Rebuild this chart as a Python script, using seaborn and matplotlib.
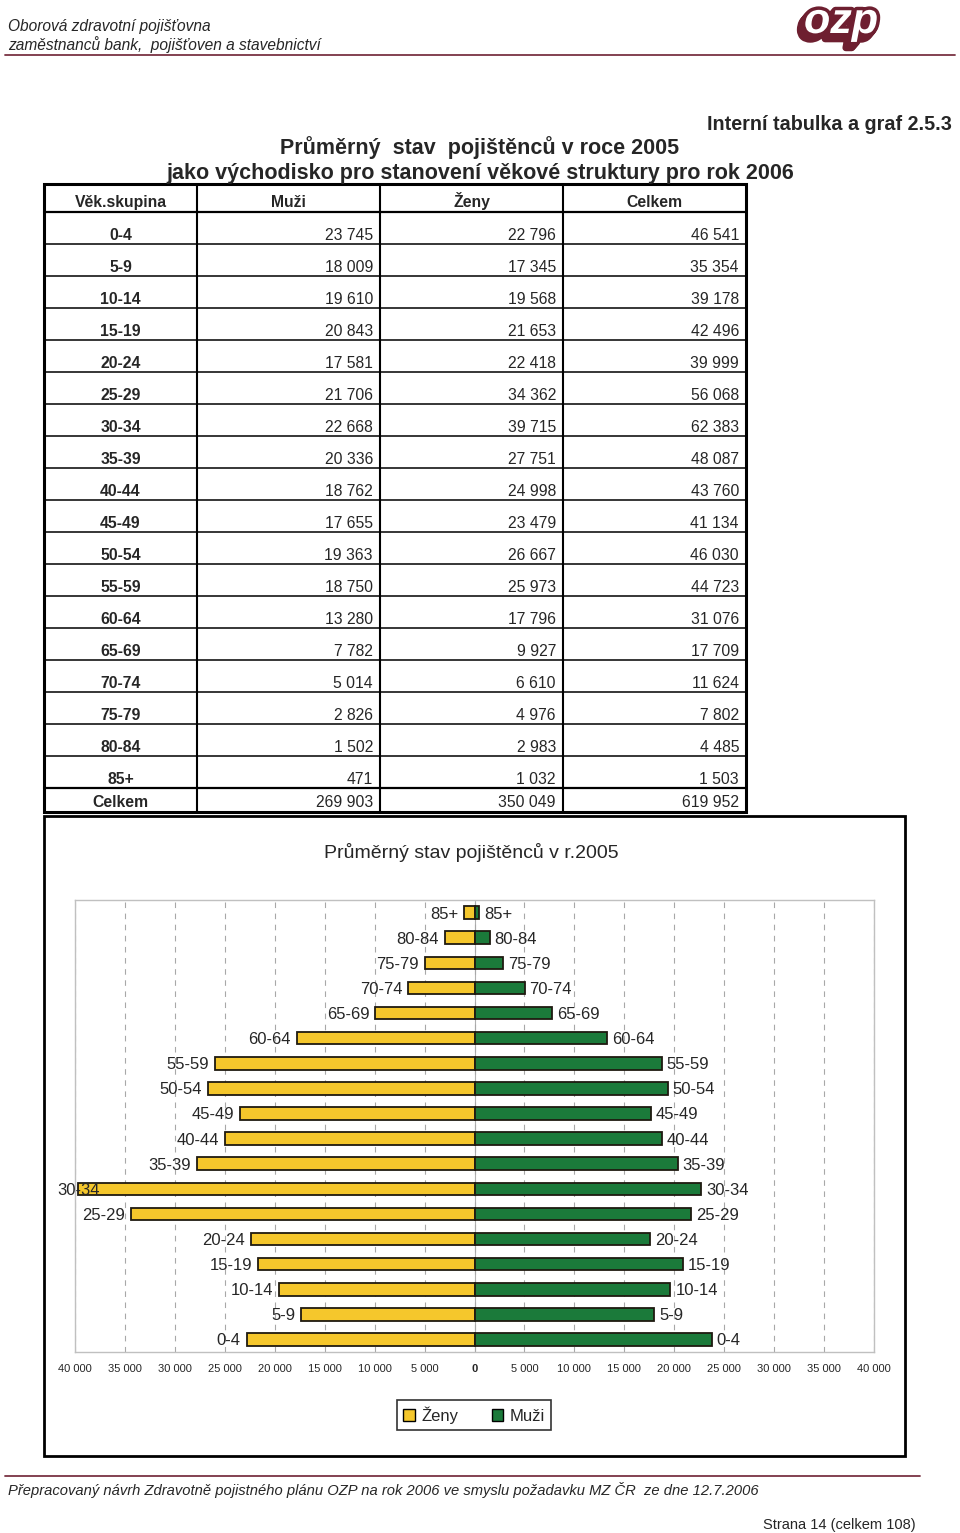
import numpy as np
import pandas as pd
import matplotlib
matplotlib.use("Agg")
import matplotlib.pyplot as plt
import matplotlib.patheffects as pe
from matplotlib.patches import Patch, Rectangle
from matplotlib.ticker import FuncFormatter
import seaborn as sns

# ---------------- data ----------------
ages = ["0-4", "5-9", "10-14", "15-19", "20-24", "25-29", "30-34", "35-39", "40-44",
        "45-49", "50-54", "55-59", "60-64", "65-69", "70-74", "75-79", "80-84", "85+"]
muzi = [23745, 18009, 19610, 20843, 17581, 21706, 22668, 20336, 18762,
        17655, 19363, 18750, 13280, 7782, 5014, 2826, 1502, 471]
zeny = [22796, 17345, 19568, 21653, 22418, 34362, 39715, 27751, 24998,
        23479, 26667, 25973, 17796, 9927, 6610, 4976, 2983, 1032]
celkem = [46541, 35354, 39178, 42496, 39999, 56068, 62383, 48087, 43760,
          41134, 46030, 44723, 31076, 17709, 11624, 7802, 4485, 1503]
total_label = "Celkem"
totals = [269903, 350049, 619952]
col_headers = ["Věk.skupina", "Muži", "Ženy", "Celkem"]
xticks = [-40000, -35000, -30000, -25000, -20000, -15000, -10000, -5000, 0,
          5000, 10000, 15000, 20000, 25000, 30000, 35000, 40000]

YELLOW = "#F5C72C"
GREEN = "#1B7A3A"
EDGE = "#1f1a10"
DARKRED = "#6E1F30"

sns.set_style("white")
plt.rcParams["font.family"] = ["Liberation Sans", "DejaVu Sans"]

W, H = 960, 1533
fig = plt.figure(figsize=(W / 100, H / 100), dpi=100)

# overlay axes in pixel coordinates
ax0 = fig.add_axes([0, 0, 1, 1], zorder=0)
ax0.set_xlim(0, W)
ax0.set_ylim(H, 0)
ax0.axis("off")


def fmt(v):
    return f"{v:,}".replace(",", " ")


def txt(x, y, s, size, ha="left", **kw):
    ax0.text(x, y + size * 0.5, s, fontsize=size, ha=ha, va="baseline", **kw)


# ---------------- header ----------------
txt(8, 25, "Oborová zdravotní pojišťovna", 11.2, style="italic")
txt(8, 44, "zaměstnanců bank,  pojišťoven a stavebnictví", 11.2, style="italic")
ax0.plot([5, 955], [55, 55], color="#7A3343", lw=1.3)

# logo (single text, extruded shadow via path effects)
logo_fx = [pe.Stroke(offset=(-k * 0.6, -k * 0.7), linewidth=5, foreground=DARKRED)
           for k in range(6, 0, -1)]
logo_fx += [pe.Stroke(linewidth=5, foreground=DARKRED), pe.Normal()]
ax0.text(841, 22, "ozp", fontsize=31, fontweight="bold", style="italic",
         color="white", ha="center", va="center", path_effects=logo_fx)

txt(952, 123, "Interní tabulka a graf 2.5.3", 14.2, ha="right", fontweight="bold")
txt(480, 146, "Průměrný  stav  pojištěnců v roce 2005", 15.5, ha="center", fontweight="bold")
txt(480, 171, "jako východisko pro stanovení věkové struktury pro rok 2006", 15.5,
    ha="center", fontweight="bold")

# ---------------- table ----------------
xb = [44, 197, 380, 563, 746]
top, hdr_bot = 184, 212
row_h = 32
rows_bot = hdr_bot + row_h * len(ages)
tab_bot = 812

ax0.plot([xb[0], xb[-1]], [hdr_bot, hdr_bot], color="black", lw=1.6)
for i in range(1, len(ages)):
    yy = hdr_bot + row_h * i
    ax0.plot([xb[0], xb[-1]], [yy, yy], color="black", lw=1.1)
ax0.plot([xb[0], xb[-1]], [rows_bot, rows_bot], color="black", lw=1.6)
for x in xb[1:-1]:
    ax0.plot([x, x], [top, tab_bot], color="black", lw=1.5)
ax0.add_patch(Rectangle((xb[0], top), xb[-1] - xb[0], tab_bot - top,
                        fill=False, edgecolor="black", lw=2.2))

for j, h in enumerate(col_headers):
    txt((xb[j] + xb[j + 1]) / 2, 201, h, 11.3, ha="center", fontweight="bold")

for i, a in enumerate(ages):
    yc = hdr_bot + row_h * i + 22
    txt((xb[0] + xb[1]) / 2, yc, a, 11.3, ha="center", fontweight="bold")
    for j, v in enumerate([muzi[i], zeny[i], celkem[i]]):
        txt(xb[j + 2] - 7, yc, fmt(v), 11.3, ha="right")
txt((xb[0] + xb[1]) / 2, 801, total_label, 11.3, ha="center", fontweight="bold")
for j, v in enumerate(totals):
    txt(xb[j + 2] - 7, 801, fmt(v), 11.3, ha="right")

# ---------------- chart box ----------------
ax0.add_patch(Rectangle((44, 816), 905 - 44, 1456 - 816, fill=False,
                        edgecolor="black", lw=2))
txt(471, 851, "Průměrný stav pojištěnců v r.2005", 14, ha="center")

# ---------------- pyramid ----------------
pl, pr, pt, pb = 75, 874, 900, 1352
ax = fig.add_axes([pl / W, 1 - pb / H, (pr - pl) / W, (pb - pt) / H], zorder=1)

order = ages[::-1]
df = pd.DataFrame({"age": ages, "Muži": muzi, "Ženy": [-z for z in zeny]})

sns.barplot(data=df, y="age", x="Ženy", order=order, orient="h", color=YELLOW,
            saturation=1, edgecolor=EDGE, linewidth=1.3, width=0.5, ax=ax)
sns.barplot(data=df, y="age", x="Muži", order=order, orient="h", color=GREEN,
            saturation=1, edgecolor=EDGE, linewidth=1.3, width=0.5, ax=ax)

ax.set_xlim(-40000, 40000)
ax.set_ylim(len(ages) - 0.5, -0.5)
ax.set_xticks(xticks)
ax.xaxis.set_major_formatter(FuncFormatter(lambda v, p: fmt(int(abs(v)))))
ax.tick_params(axis="x", length=0, pad=9, labelsize=8)
for lab, v in zip(ax.get_xticklabels(), xticks):
    if v == 0:
        lab.set_fontweight("bold")
ax.set_yticks([])
ax.set_xlabel("")
ax.set_ylabel("")
ax.grid(axis="x", linestyle=(0, (5, 5)), color="#a8a8a8", lw=0.8)
ax.set_axisbelow(True)
for s in ax.spines.values():
    s.set_color("#c0c0c0")
    s.set_linewidth(1)
ax.axvline(0, color="#b0b0b0", lw=0.8, zorder=0)

# label positions: women label to the left of the bar end, kept inside the chart area
left_limit = -41800
for i, a in enumerate(order):
    idx = ages.index(a)
    xl = -zeny[idx] - 600
    if xl < -37000:
        ax.text(left_limit, i, a, ha="left", va="center_baseline", fontsize=12,
                clip_on=False)
    else:
        ax.text(xl, i, a, ha="right", va="center_baseline", fontsize=12)
    ax.text(muzi[idx] + 500, i, a, ha="left", va="center_baseline", fontsize=12)

handles = [Patch(facecolor=YELLOW, edgecolor="black", label="Ženy"),
           Patch(facecolor=GREEN, edgecolor="black", label="Muži")]
leg = fig.legend(handles=handles, loc="center", ncol=2,
                 bbox_to_anchor=(474 / W, 1 - 1415 / H), fontsize=12,
                 frameon=True, fancybox=False, edgecolor="black",
                 handlelength=0.7, handleheight=0.7, handletextpad=0.4,
                 columnspacing=2.0, borderpad=0.35)
leg.get_frame().set_linewidth(1.2)

# ---------------- footer ----------------
ax0.plot([5, 920], [1476, 1476], color="#7A3343", lw=1.3)
txt(8, 1490, "Přepracovaný návrh Zdravotně pojistného plánu OZP na rok 2006 ve smyslu požadavku MZ ČR  ze dne 12.7.2006",
    10.6, style="italic")
txt(916, 1524, "Strana 14 (celkem 108)", 10.5, ha="right")

fig.savefig("out.png", dpi=100)
